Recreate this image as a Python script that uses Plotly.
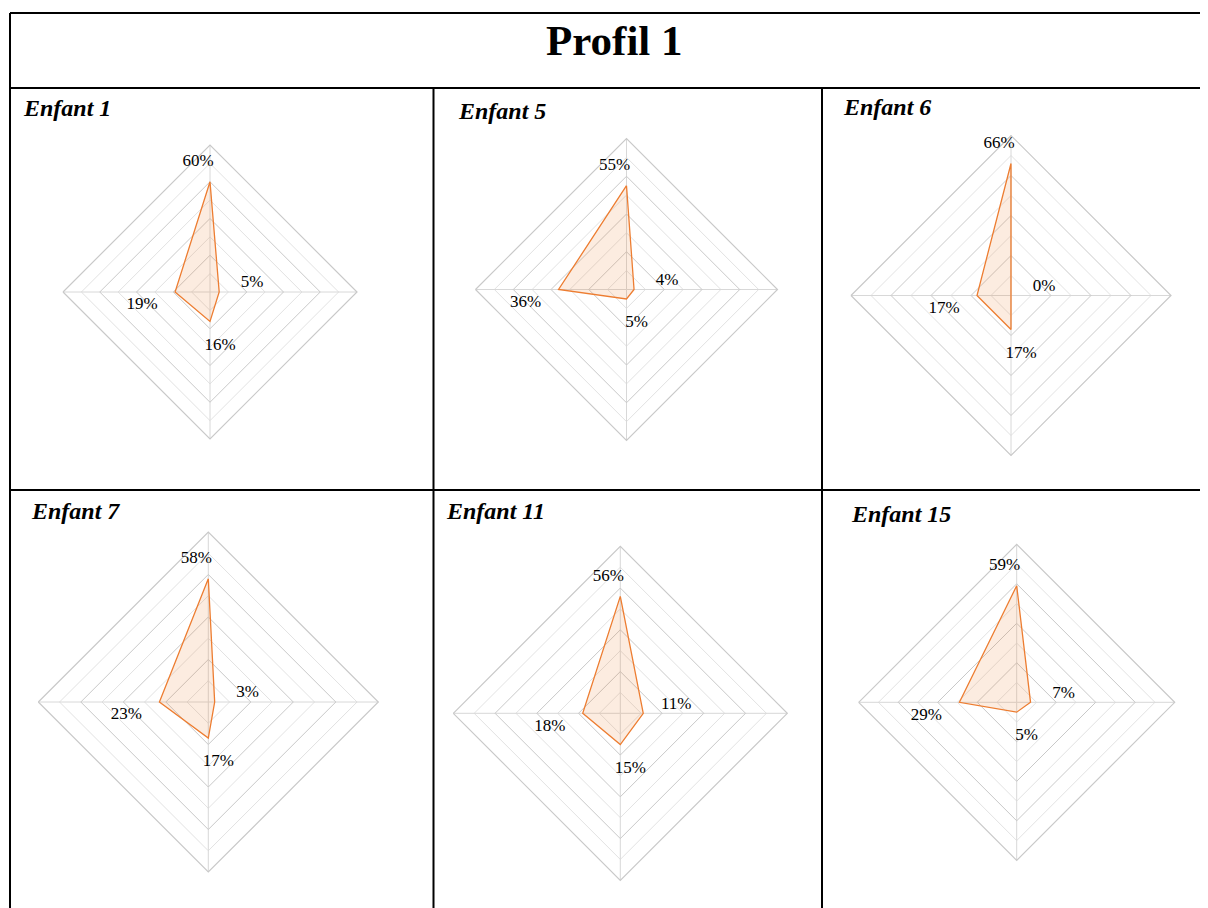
import math
import plotly.graph_objects as go

# ---------------- data ----------------
title_text = "Profil 1"
categories = ["Axe 1", "Axe 2", "Axe 3", "Axe 4"]   # top, right, bottom, left
enfants = ["Enfant 1", "Enfant 5", "Enfant 6", "Enfant 7", "Enfant 11", "Enfant 15"]
enfant_1 = [60, 5, 16, 19]
enfant_5 = [55, 4, 5, 36]
enfant_6 = [66, 0, 17, 17]
enfant_7 = [58, 3, 17, 23]
enfant_11 = [56, 11, 15, 18]
enfant_15 = [59, 7, 5, 29]
series = [enfant_1, enfant_5, enfant_6, enfant_7, enfant_11, enfant_15]
major_ticks = [20, 40, 60, 80]
minor_ticks = [10, 30, 50, 70]
r_max = 80

# ---------------- layout / style ----------------
W, H = 1208, 908
OFF = 8  # page body margin
# radar centre (px) and outer radius (px) per panel
panels = [(210, 292, 147), (626.5, 289.5, 151), (1011, 295.5, 160),
          (208.3, 702, 170), (620.3, 713.3, 167), (1016.7, 702.3, 158)]
title_pos = [(21, 108), (456, 111), (841, 107), (29, 511), (444, 511), (849, 514)]
# label offset in px: (outward, counter-clockwise) for top, right, bottom, left
label_offsets = [(20, 12), (33, 9), (24, 10), (33, 13)]
axis_angles = [0, 90, 180, 270]

ORANGE = "#ED7D31"
FILL = "rgba(237,125,49,0.15)"
MAJOR = "#c9c9c9"
MINOR = "#e2e2e2"
SPOKE = "#d8d8d8"
SERIF = "Liberation Serif, Times New Roman, serif"

fig = go.Figure()
layout_polars = {}


def px(x):
    return (x - OFF) / W


def py(y):
    return 1 - (y - OFF) / H


idx = 0
for k, (vals, (cx, cy, R)) in enumerate(zip(series, panels)):
    dom = dict(x=[px(cx - R), px(cx + R)], y=[py(cy + R), py(cy - R)])
    names = []
    for _ in range(3):
        idx += 1
        names.append("polar" if idx == 1 else f"polar{idx}")
    p_minor, p_major, p_text = names

    common_ang = dict(rotation=90, direction="clockwise", showticklabels=False, ticks="")
    # minor grid polar (background)
    layout_polars[p_minor] = dict(
        domain=dom, bgcolor="white", gridshape="linear",
        radialaxis=dict(range=[0, r_max], tickvals=minor_ticks, showticklabels=False,
                        ticks="", showline=False, gridcolor=MINOR, gridwidth=1.2),
        angularaxis=dict(type="category", categoryarray=categories, showgrid=False,
                         showline=False, **common_ang),
    )
    # major grid polar with data
    layout_polars[p_major] = dict(
        domain=dom, bgcolor="rgba(0,0,0,0)", gridshape="linear",
        radialaxis=dict(range=[0, r_max], tickvals=major_ticks, showticklabels=False,
                        ticks="", showline=False, gridcolor=MAJOR, gridwidth=1.2),
        angularaxis=dict(type="category", categoryarray=categories, showgrid=True,
                         gridcolor=SPOKE, gridwidth=1.1, showline=True, linecolor=MAJOR,
                         linewidth=1.2, **common_ang),
    )
    # invisible numeric polar for data labels
    layout_polars[p_text] = dict(
        domain=dom, bgcolor="rgba(0,0,0,0)",
        radialaxis=dict(range=[0, r_max], visible=False),
        angularaxis=dict(type="linear", visible=False, showgrid=False, showline=False,
                         **common_ang),
    )

    # dummy trace so the minor polar is drawn
    fig.add_trace(go.Scatterpolar(r=[0], theta=[categories[0]], mode="markers",
                                  marker=dict(size=0.1, color="rgba(0,0,0,0)"),
                                  subplot=p_minor, showlegend=False, hoverinfo="skip"))
    fig.add_trace(go.Scatterpolar(
        r=vals + [vals[0]], theta=categories + [categories[0]],
        mode="lines", fill="toself", fillcolor=FILL,
        line=dict(color=ORANGE, width=1.3),
        subplot=p_major, showlegend=False, name=enfants[k]))

    # label positions through the numeric polar scale
    unit = R / r_max
    lr, lt, lx = [], [], []
    for v, a, (o, p) in zip(vals, axis_angles, label_offsets):
        ro = v + o / unit
        pu = p / unit
        lr.append(math.hypot(ro, pu))
        lt.append(a - math.degrees(math.atan2(pu, ro)))
        lx.append(f"{v}%")
    fig.add_trace(go.Scatterpolar(
        r=lr, theta=lt, mode="text", text=lx, textposition="middle center",
        textfont=dict(family=SERIF, size=17, color="#000000"),
        subplot=p_text, showlegend=False, hoverinfo="skip"))

annotations = [dict(text=f"<b>{title_text}</b>", x=px(614), y=py(40), xref="paper",
                    yref="paper", showarrow=False, xanchor="center", yanchor="middle",
                    font=dict(family=SERIF, size=43, color="black"))]
for name, (tx, ty) in zip(enfants, title_pos):
    annotations.append(dict(text=f"<b><i>{name}</i></b>", x=px(tx), y=py(ty),
                            xref="paper", yref="paper", showarrow=False,
                            xanchor="left", yanchor="middle",
                            font=dict(family=SERIF, size=24, color="black")))

LW = 2
border = [
    (10, 13, W + 20, 13),     # top
    (10, 13, 10, H + 20),     # left
    (10, 88, W + 20, 88),     # below title
    (10, 490, W + 20, 490),   # between rows
    (433.5, 88, 433.5, H + 20),
    (822, 88, 822, H + 20),
]
shapes = [dict(type="line", xref="paper", yref="paper", x0=px(a), y0=py(b), x1=px(c),
               y1=py(d), line=dict(color="black", width=LW)) for a, b, c, d in border]

fig.update_layout(
    width=W, height=H, margin=dict(l=0, r=0, t=0, b=0),
    paper_bgcolor="white", plot_bgcolor="white", showlegend=False,
    annotations=annotations, shapes=shapes, **layout_polars,
)

fig.write_html("out.html")
